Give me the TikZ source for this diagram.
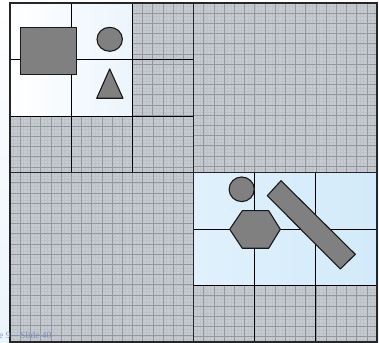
\documentclass[tikz,border=0pt]{standalone}
\usepackage{fontspec}
\setmainfont{Liberation Serif}
\usetikzlibrary{calc}
\definecolor{celgris}{RGB}{198,203,209}
\definecolor{fingris}{RGB}{148,151,156}
\definecolor{texgris}{RGB}{189,194,201}
\definecolor{bleuA}{RGB}{224,241,252}
\definecolor{bleuB}{RGB}{210,234,250}
\definecolor{blancB}{RGB}{236,245,252}
\definecolor{pageC}{RGB}{112,132,186}
\definecolor{formeC}{RGB}{128,128,128}
\tikzset{
  fort/.style={line width=1.4pt, draw=black!85},
  fin/.style={line width=0.9pt, draw=black},
  forme/.style={draw=black!90, line width=1.1pt, fill=formeC, line join=round},
}
\newcommand{\cellgris}[4]{%
  \begin{scope}
    \clip (#1,#2) rectangle ++(#3,-#4);
    \fill[celgris] (#1,#2) rectangle ++(#3,-#4);
    \begin{scope}[shift={(#1,#2)}]
      \draw[texgris, line width=0.25pt] (0,-#4) grid[step=3.4] (#3,0);
      \draw[fingris, line width=0.6pt] (0,-#4) grid[step=10.2] (#3,0);
    \end{scope}
  \end{scope}}

\begin{document}
\begin{tikzpicture}[x=1pt, y=1pt]
  \shade[top color=white, bottom color=blancB] (0,0) rectangle (379,342);
  \useasboundingbox (0,0) rectangle (379,342);
  \shade[left color=white, right color=blancB] (10,339) rectangle (132.33,226);
  \shade[left color=bleuA, right color=bleuB] (193.5,169.5) rectangle (377,56.5);
  \cellgris{132.33}{339}{61.17}{113}
  \cellgris{10}{226}{183.5}{56.5}
  \cellgris{193.5}{339}{183.5}{169.5}
  \cellgris{10}{169.5}{183.5}{169.5}
  \cellgris{193.5}{56.5}{183.5}{56.5}
  \foreach \x in {71.17,132.33} \draw[fin] (\x,339) -- (\x,169.5);
  \foreach \y in {282.5,226} \draw[fin] (10,\y) -- (193.5,\y);
  \foreach \x in {254.67,315.83} \draw[fin] (\x,169.5) -- (\x,0);
  \foreach \y in {113,56.5} \draw[fin] (193.5,\y) -- (377,\y);
  \draw[fort] (10,0) rectangle (377,339);
  \draw[fort] (193.5,0) -- (193.5,339);
  \draw[fort] (10,169.5) -- (377,169.5);
  \draw[forme] (20.3,314.7) rectangle (76.7,267.3);
  \draw[forme] (109.7,302.7) ellipse [x radius=12.7, y radius=12];
  \draw[forme] (109.7,273) -- (123,243.7) -- (96.7,243.7) -- cycle;
  \draw[forme] (241.7,152.7) ellipse [x radius=12.6, y radius=12.3];
  \draw[forme] (229.7,112.7) -- (242.3,131.3) -- (268.7,131.3) -- (280.3,112.7)
    -- (268.7,93.7) -- (242.3,93.7) -- cycle;
  \draw[forme] (281,161.3) -- (267.3,146.3) -- (340.3,73) -- (355.3,87.7) -- cycle;
  \node[anchor=base west, inner sep=0pt, text=pageC, text opacity=0.85,
    font=\fontsize{9.5}{11}\selectfont] (pied) at (-1,3.5) {e 9 – Slide 40};
\end{tikzpicture}
\end{document}
